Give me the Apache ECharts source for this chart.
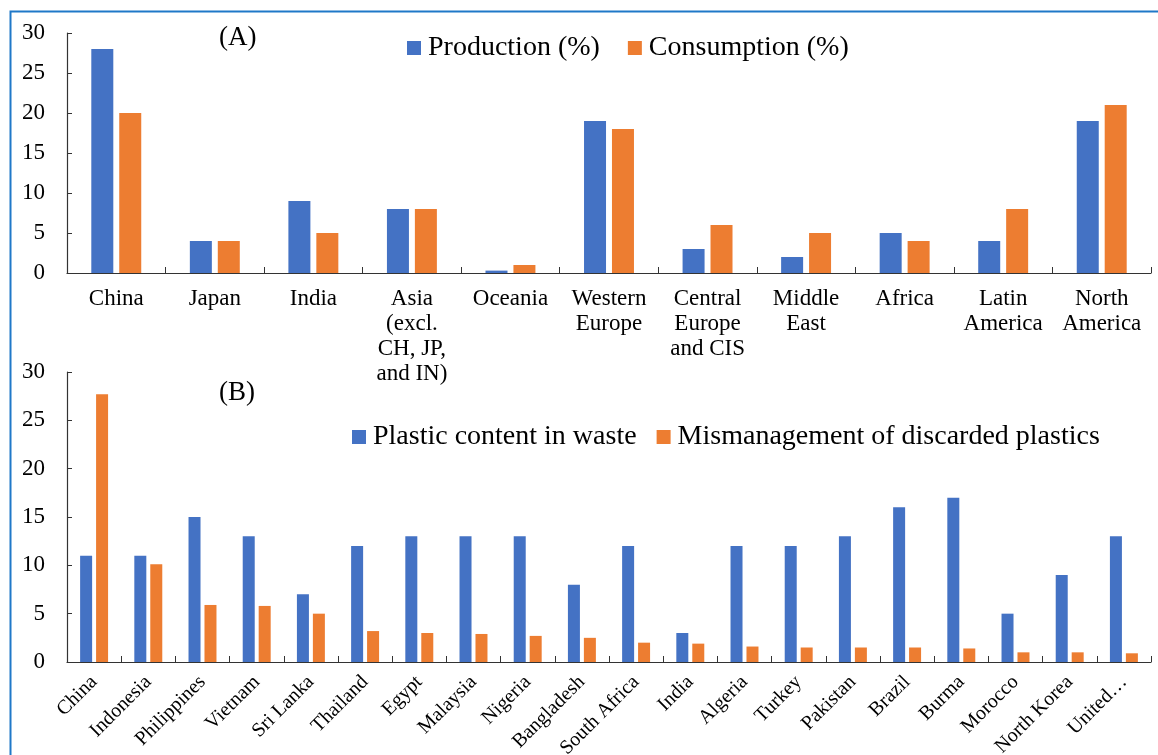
<!DOCTYPE html>
<html>
<head>
<meta charset="utf-8">
<title>Plastic production, consumption and waste</title>
<script src="https://cdn.jsdelivr.net/npm/echarts@6/dist/echarts.min.js"></script>
<style>
  html, body { margin: 0; padding: 0; background: #ffffff; }
  #chart { width: 1158px; height: 755px; }
</style>
</head>
<body>
<div id="chart"></div>
<script>
// Panel (A): regional share of plastic production and consumption
const regionsA = [
  'China', 'Japan', 'India', 'Asia\n(excl.\nCH, JP,\nand IN)', 'Oceania',
  'Western\nEurope', 'Central\nEurope\nand CIS', 'Middle\nEast', 'Africa',
  'Latin\nAmerica', 'North\nAmerica'
];
const productionPct  = [28, 4, 9, 8, 0.3, 19, 3, 2, 5, 4, 19];
const consumptionPct = [20, 4, 5, 8, 1, 18, 6, 5, 4, 8, 21];

// Panel (B): plastic content in waste and mismanaged plastic waste by country
const countriesB = [
  'China', 'Indonesia', 'Philippines', 'Vietnam', 'Sri Lanka', 'Thailand',
  'Egypt', 'Malaysia', 'Nigeria', 'Bangladesh', 'South Africa', 'India',
  'Algeria', 'Turkey', 'Pakistan', 'Brazil', 'Burma', 'Morocco',
  'North Korea', 'United\u2026'
];
const plasticContent = [11, 11, 15, 13, 7, 12, 13, 13, 13, 8, 12, 3, 12, 12, 13, 16, 17, 5, 9, 13];
const mismanagedPlastic = [27.7, 10.1, 5.9, 5.8, 5.0, 3.2, 3.0, 2.9, 2.7, 2.5, 2.0, 1.9, 1.6, 1.5, 1.5, 1.5, 1.4, 1.0, 1.0, 0.9];

// Shared value-axis scale
const yMin = 0, yMax = 30, yStep = 5;

const FONT = "'Liberation Serif', 'Times New Roman', serif";
const BLUE = '#4472C4';
const ORANGE = '#ED7D31';
const AXIS = '#333333';

function valueAxis(gridIndex) {
  return {
    type: 'value', gridIndex: gridIndex,
    min: yMin, max: yMax, interval: yStep,
    axisLine: { show: true, lineStyle: { color: AXIS, width: 1.2 } },
    axisTick: { show: true, inside: true, length: 5, lineStyle: { color: AXIS } },
    splitLine: { show: false },
    axisLabel: { color: '#000', fontFamily: FONT, fontSize: 23, margin: 22 }
  };
}

const chart = echarts.init(document.getElementById('chart'), null, { renderer: 'canvas' });

chart.setOption({
  backgroundColor: '#ffffff',
  animation: false,
  title: [
    { text: '(A)', left: 214, top: 19, textStyle: { fontFamily: FONT, fontSize: 27, fontWeight: 'normal', color: '#000' } },
    { text: '(B)', left: 214, top: 374, textStyle: { fontFamily: FONT, fontSize: 27, fontWeight: 'normal', color: '#000' } }
  ],
  legend: [
    {
      data: ['Production (%)', 'Consumption (%)'],
      left: 402, top: 29,
      icon: 'rect', itemWidth: 14, itemHeight: 14, itemGap: 28,
      textStyle: { fontFamily: FONT, fontSize: 28, color: '#000', padding: [0, 0, 0, 2] }
    },
    {
      data: ['Plastic content in waste', 'Mismanagement of discarded plastics'],
      left: 347, top: 418,
      icon: 'rect', itemWidth: 14, itemHeight: 14, itemGap: 20,
      textStyle: { fontFamily: FONT, fontSize: 28, color: '#000', padding: [0, 0, 0, 2] }
    }
  ],
  grid: [
    { left: 67, right: 7, top: 33, height: 240, outerBoundsMode: 'none', containLabel: false },
    { left: 67, right: 7, top: 372, height: 290, outerBoundsMode: 'none', containLabel: false }
  ],
  xAxis: [
    {
      type: 'category', gridIndex: 0, data: regionsA,
      axisLine: { show: true, lineStyle: { color: AXIS, width: 1.2 } },
      axisTick: { show: true, inside: true, length: 6, interval: 0, lineStyle: { color: AXIS } },
      axisLabel: { interval: 0, color: '#000', fontFamily: FONT, fontSize: 23, lineHeight: 25, margin: 13 }
    },
    {
      type: 'category', gridIndex: 1, data: countriesB,
      axisLine: { show: true, lineStyle: { color: AXIS, width: 1.2 } },
      axisTick: { show: true, inside: true, length: 6, interval: 0, lineStyle: { color: AXIS } },
      axisLabel: { interval: 0, rotate: 45, color: '#000', fontFamily: FONT, fontSize: 20, margin: 17 }
    }
  ],
  yAxis: [valueAxis(0), valueAxis(1)],
  series: [
    { name: 'Production (%)', type: 'bar', xAxisIndex: 0, yAxisIndex: 0, data: productionPct,
      barWidth: 22, barGap: '27%', itemStyle: { color: BLUE } },
    { name: 'Consumption (%)', type: 'bar', xAxisIndex: 0, yAxisIndex: 0, data: consumptionPct,
      barWidth: 22, barGap: '27%', itemStyle: { color: ORANGE } },
    { name: 'Plastic content in waste', type: 'bar', xAxisIndex: 1, yAxisIndex: 1, data: plasticContent,
      barWidth: 12, barGap: '33%', itemStyle: { color: BLUE } },
    { name: 'Mismanagement of discarded plastics', type: 'bar', xAxisIndex: 1, yAxisIndex: 1, data: mismanagedPlastic,
      barWidth: 12, barGap: '33%', itemStyle: { color: ORANGE } }
  ],
  graphic: [
    {
      type: 'rect', left: 8, top: 9, silent: true, z: -1,
      shape: { width: 1170, height: 770 },
      style: { fill: 'none', stroke: '#1f78c8', lineWidth: 2 }
    }
  ]
});
</script>
</body>
</html>
